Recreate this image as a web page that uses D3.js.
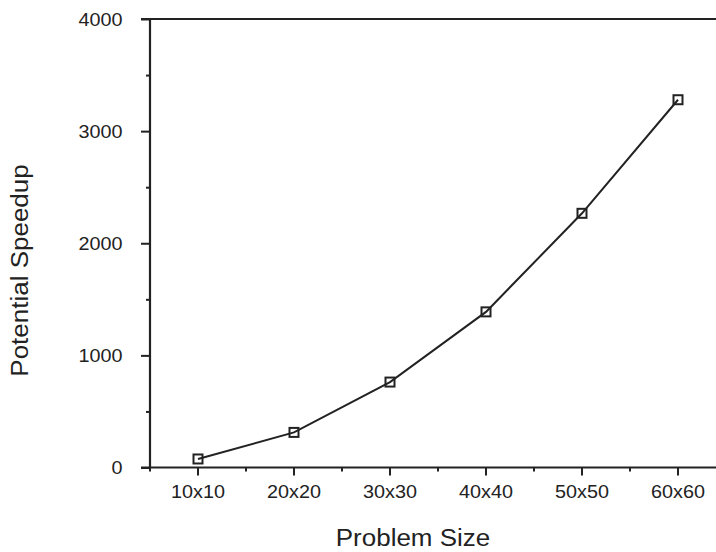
<!DOCTYPE html>
<html>
<head>
<meta charset="utf-8">
<script src="https://cdn.jsdelivr.net/npm/d3@7"></script>
<style>
  html, body { margin: 0; padding: 0; background: #fff; }
  svg { display: block; }
  text { font-family: "Liberation Sans", Arial, Helvetica, sans-serif; fill: #222; }
</style>
</head>
<body>
<svg id="chart" width="716" height="552"></svg>
<script>
// ---- data ----
const categories = ["10x10", "20x20", "30x30", "40x40", "50x50", "60x60"];
const speedup = [76, 313, 762, 1388, 2267, 3280];
const yTicks = [0, 1000, 2000, 3000, 4000];
const yMinorTicks = [500, 1500, 2500, 3500];
const xTitle = "Problem Size";
const yTitle = "Potential Speedup";

// ---- layout ----
const plotLeft = 150, plotRight = 726, plotTop = 19, plotBottom = 467.5;
const ink = "#222";

const svg = d3.select("#chart");

const x = d3.scaleBand().domain(categories).range([plotLeft, plotRight]).padding(0);
const y = d3.scaleLinear().domain([0, 4000]).range([plotBottom, plotTop]);

const tickScale = 1.07;
const tickFont = "18.5px";

// y axis major
const yAxis = svg.append("g")
  .attr("transform", `translate(${plotLeft},0)`)
  .call(d3.axisLeft(y).tickValues(yTicks).tickSize(9).tickPadding(0).tickFormat(d3.format("d")));
yAxis.select(".domain").remove();
yAxis.selectAll(".tick line").attr("stroke", ink).attr("stroke-width", 2);
yAxis.selectAll(".tick text")
  .attr("x", -27.5 / tickScale)
  .attr("dy", "0.35em")
  .attr("transform", `scale(${tickScale},1)`)
  .style("font-size", tickFont)
  .attr("fill", ink);

// y axis minor
const yMinor = svg.append("g")
  .attr("transform", `translate(${plotLeft},0)`)
  .call(d3.axisLeft(y).tickValues(yMinorTicks).tickSize(4).tickFormat(""));
yMinor.select(".domain").remove();
yMinor.selectAll(".tick line").attr("stroke", ink).attr("stroke-width", 2);

// x axis major ticks at category centers
const xAxis = svg.append("g")
  .attr("transform", `translate(0,${plotBottom})`)
  .call(d3.axisBottom(x).tickSize(8).tickPadding(0));
xAxis.select(".domain").remove();
xAxis.selectAll(".tick line").attr("stroke", ink).attr("stroke-width", 2);
xAxis.selectAll(".tick text")
  .attr("y", 31)
  .attr("dy", "0")
  .attr("transform", `scale(${tickScale},1)`)
  .style("font-size", tickFont)
  .attr("fill", ink);

// x axis minor ticks at band boundaries
const bounds = categories.map(c => x(c));
svg.append("g").selectAll("line")
  .data(bounds)
  .join("line")
  .attr("x1", d => d).attr("x2", d => d)
  .attr("y1", plotBottom).attr("y2", plotBottom + 4)
  .attr("stroke", ink).attr("stroke-width", 2);

// axis lines
svg.append("line")
  .attr("x1", plotLeft - 9).attr("x2", plotRight)
  .attr("y1", y(0)).attr("y2", y(0))
  .attr("stroke", ink).attr("stroke-width", 2.2);
svg.append("line")
  .attr("x1", plotLeft - 9).attr("x2", plotRight)
  .attr("y1", y(4000)).attr("y2", y(4000))
  .attr("stroke", ink).attr("stroke-width", 2.2);
svg.append("line")
  .attr("x1", plotLeft).attr("x2", plotLeft)
  .attr("y1", y(4000)).attr("y2", y(0))
  .attr("stroke", ink).attr("stroke-width", 2.2);

// series line
const cx = c => x(c) + x.bandwidth() / 2;
const line = d3.line().x((d, i) => cx(categories[i])).y(d => y(d));
svg.append("path")
  .datum(speedup)
  .attr("d", line)
  .attr("fill", "none")
  .attr("stroke", ink)
  .attr("stroke-width", 2);

// markers
const ms = 9;
svg.append("g").selectAll("rect")
  .data(speedup)
  .join("rect")
  .attr("x", (d, i) => cx(categories[i]) - ms / 2)
  .attr("y", d => y(d) - ms / 2)
  .attr("width", ms).attr("height", ms)
  .attr("fill", "none")
  .attr("stroke", ink)
  .attr("stroke-width", 2);

// titles
const titleScale = 1.13;
const titleFont = "23px";
svg.append("text")
  .attr("transform", `translate(413,546) scale(${titleScale},1)`)
  .attr("text-anchor", "middle")
  .style("font-size", titleFont)
  .text(xTitle);
svg.append("text")
  .attr("transform", `translate(28,270.5) rotate(-90) scale(${titleScale},1)`)
  .attr("text-anchor", "middle")
  .style("font-size", titleFont)
  .text(yTitle);
</script>
</body>
</html>
